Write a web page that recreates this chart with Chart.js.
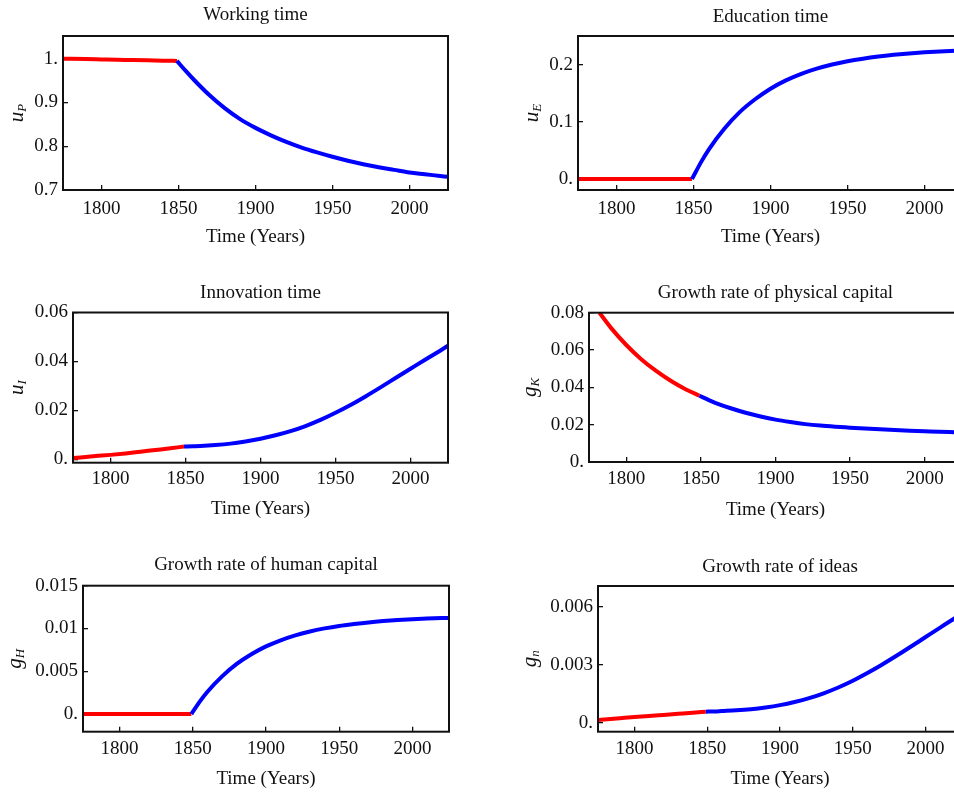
<!DOCTYPE html>
<html>
<head>
<meta charset="utf-8">
<script src="https://cdn.jsdelivr.net/npm/chart.js@4.4.0/dist/chart.umd.min.js"></script>
<style>
  html, body { margin: 0; padding: 0; background: #fff; width: 954px; height: 792px; overflow: hidden; }
  canvas { position: absolute; }
</style>
</head>
<body>
<canvas id="c1"></canvas>
<canvas id="c2"></canvas>
<canvas id="c3"></canvas>
<canvas id="c4"></canvas>
<canvas id="c5"></canvas>
<canvas id="c6"></canvas>
<script>
// years (red = before 1849, blue = after)
const preYears  = [1775, 1790, 1800, 1810, 1820, 1830, 1840, 1849];
const gkPreYears = [1782, 1790, 1800, 1810, 1820, 1830, 1840, 1849];
const postYears = [1849, 1855, 1860, 1870, 1880, 1890, 1900, 1910, 1920, 1930,
                   1940, 1950, 1960, 1970, 1980, 1990, 2000, 2010, 2020, 2025];
const yearTicks = [1800, 1850, 1900, 1950, 2000];

// working time u_P
const upPre  = [1.0, 0.9992, 0.9985, 0.9978, 0.997, 0.9963, 0.9957, 0.995];
const upPost = [0.995, 0.971, 0.952, 0.917, 0.887, 0.862, 0.842, 0.825, 0.810, 0.797,
                0.786, 0.776, 0.767, 0.759, 0.752, 0.746, 0.740, 0.736, 0.732, 0.730];
const upTicks = [0.7, 0.8, 0.9, 1.0];
const upTickLabels = ['0.7', '0.8', '0.9', '1.'];

// education time u_E
const uePre  = [0, 0, 0, 0, 0, 0, 0, 0];
const uePost = [0, 0.030, 0.052, 0.088, 0.117, 0.1395, 0.158, 0.1725, 0.184, 0.193,
                0.2003, 0.206, 0.2105, 0.2142, 0.2172, 0.2197, 0.2217, 0.2232, 0.2242, 0.2245];
const ueTicks = [0, 0.1, 0.2];
const ueTickLabels = ['0.', '0.1', '0.2'];

// innovation time u_I
const uiPre  = [0.0005, 0.0013, 0.0018, 0.0024, 0.0031, 0.0038, 0.0045, 0.0052];
const uiPost = [0.0052, 0.0053, 0.0054, 0.0058, 0.0064, 0.0073, 0.0084, 0.0098, 0.0115, 0.0136,
                0.0161, 0.0190, 0.0222, 0.0257, 0.0294, 0.0332, 0.0370, 0.0408, 0.0445, 0.0464];
const uiTicks = [0, 0.02, 0.04, 0.06];
const uiTickLabels = ['0.', '0.02', '0.04', '0.06'];

// growth rate of physical capital g_K
const gkPre  = [0.080, 0.0716, 0.0627, 0.0551, 0.0488, 0.0434, 0.0389, 0.0355];
const gkPost = [0.0355, 0.0333, 0.0316, 0.0288, 0.0264, 0.0244, 0.0227, 0.0214, 0.0203, 0.0195,
                0.0189, 0.0184, 0.0179, 0.0175, 0.0171, 0.0168, 0.0165, 0.0162, 0.0160, 0.0159];
const gkTicks = [0, 0.02, 0.04, 0.06, 0.08];
const gkTickLabels = ['0.', '0.02', '0.04', '0.06', '0.08'];

// growth rate of human capital g_H
const ghPre  = [0, 0, 0, 0, 0, 0, 0, 0];
const ghPost = [0, 0.0015, 0.0026, 0.0044, 0.00585, 0.00698, 0.0079, 0.00862, 0.0092, 0.00965,
                0.01001, 0.0103, 0.01052, 0.01071, 0.01086, 0.01098, 0.01108, 0.01116, 0.01121, 0.01122];
const ghTicks = [0, 0.005, 0.01, 0.015];
const ghTickLabels = ['0.', '0.005', '0.01', '0.015'];

// growth rate of ideas g_n
const gnPre  = [0.00014, 0.00023, 0.00029, 0.00034, 0.0004, 0.00046, 0.00052, 0.00057];
const gnPost = [0.00057, 0.00058, 0.00060, 0.00064, 0.00070, 0.00079, 0.00091, 0.00107, 0.00127, 0.00152,
                0.00182, 0.00217, 0.00257, 0.00300, 0.00346, 0.00394, 0.00443, 0.00492, 0.00540, 0.00563];
const gnTicks = [0, 0.003, 0.006];
const gnTickLabels = ['0.', '0.003', '0.006'];

const FONT = '"Liberation Serif", "Times New Roman", serif';
const INK = '#111';
const FRAME = '#111';
const TL = -5; // inward tick marks
const TICK_SIZE = 19;
const TITLE_SIZE = 19;

const panels = [
  { id: 'c1', title: 'Working time', sym: 'u', sub: 'P',
    pre: [preYears, upPre], post: [postYears, upPost], yMin: 0.7, yMax: 1.052, ticks: upTicks, labels: upTickLabels,
    box: { x: 0, y: 0, w: 470, h: 262 }, area: { l: 63, t: 36, r: 448, b: 190 }, titleY: 15, tickY: 209, xTitleY: 237, symX: 22.5 },
  { id: 'c2', title: 'Education time', sym: 'u', sub: 'E',
    pre: [preYears, uePre], post: [postYears, uePost], yMin: -0.0192, yMax: 0.2502, ticks: ueTicks, labels: ueTickLabels,
    box: { x: 480, y: 0, w: 490, h: 262 }, area: { l: 98, t: 36, r: 483, b: 190 }, titleY: 17, tickY: 209, xTitleY: 237, symX: 58 },
  { id: 'c3', title: 'Innovation time', sym: 'u', sub: 'I',
    pre: [preYears, uiPre], post: [postYears, uiPost], yMin: -0.0014, yMax: 0.06, ticks: uiTicks, labels: uiTickLabels,
    box: { x: 0, y: 270, w: 470, h: 262 }, area: { l: 73, t: 42.5, r: 448, b: 192.7 }, titleY: 23, tickY: 209, xTitleY: 239, symX: 22.5 },
  { id: 'c4', title: 'Growth rate of physical capital', sym: 'g', sub: 'K',
    pre: [gkPreYears, gkPre], post: [postYears, gkPost], yMin: 0, yMax: 0.08, ticks: gkTicks, labels: gkTickLabels,
    box: { x: 480, y: 270, w: 490, h: 262 }, area: { l: 109, t: 42.7, r: 482, b: 192 }, titleY: 23, tickY: 209, xTitleY: 240, symX: 56 },
  { id: 'c5', title: 'Growth rate of human capital', sym: 'g', sub: 'H',
    pre: [preYears, ghPre], post: [postYears, ghPost], yMin: -0.00207, yMax: 0.015, ticks: ghTicks, labels: ghTickLabels,
    box: { x: 0, y: 540, w: 470, h: 252 }, area: { l: 83, t: 45.7, r: 449, b: 191.7 }, titleY: 25, tickY: 209, xTitleY: 239, symX: 21 },
  { id: 'c6', title: 'Growth rate of ideas', sym: 'g', sub: 'n',
    pre: [preYears, gnPre], post: [postYears, gnPost], yMin: -0.000466, yMax: 0.00707, ticks: gnTicks, labels: gnTickLabels,
    box: { x: 480, y: 540, w: 490, h: 252 }, area: { l: 118, t: 46, r: 482, b: 191.7 }, titleY: 27, tickY: 209, xTitleY: 239, symX: 56 }
];

// frame round the plot area, like a Mathematica Frame
const framePlugin = {
  id: 'frame',
  afterDraw(chart) {
    const { ctx, chartArea: a } = chart;
    ctx.save();
    ctx.strokeStyle = FRAME;
    ctx.lineWidth = 2;
    ctx.strokeRect(a.left, a.top, a.right - a.left, a.bottom - a.top);
    ctx.restore();
  }
};

// rotated y label with a subscript
const symbolPlugin = {
  id: 'symbolLabel',
  afterDraw(chart, args, opts) {
    const { ctx, chartArea: a } = chart;
    ctx.save();
    ctx.translate(opts.x, (a.top + a.bottom) / 2);
    ctx.rotate(-Math.PI / 2);
    ctx.fillStyle = INK;
    ctx.textBaseline = 'alphabetic';
    ctx.font = 'italic 21px ' + FONT;
    const w1 = ctx.measureText(opts.sym).width;
    ctx.font = 'italic 13px ' + FONT;
    const w2 = ctx.measureText(opts.sub).width;
    const start = -(w1 + w2) / 2;
    ctx.font = 'italic 21px ' + FONT;
    ctx.fillText(opts.sym, start, 0);
    ctx.font = 'italic 13px ' + FONT;
    ctx.fillText(opts.sub, start + w1, 3);
    ctx.restore();
  }
};

function toPoints(years, vals) {
  return years.map((t, i) => ({ x: t, y: vals[i] }));
}

panels.forEach(function(p) {
  const cv = document.getElementById(p.id);
  cv.width = p.box.w;
  cv.height = p.box.h;
  cv.style.left = p.box.x + 'px';
  cv.style.top = p.box.y + 'px';
  cv.style.width = p.box.w + 'px';
  cv.style.height = p.box.h + 'px';

  const tickLH = TICK_SIZE * 1.2;
  const titleLH = TITLE_SIZE * 1.2;
  const titlePadTop = p.titleY - titleLH / 2;

  new Chart(cv, {
    type: 'line',
    data: {
      datasets: [
        {
          data: toPoints(p.post[0], p.post[1]),
          borderColor: '#0000ff', borderWidth: 4, pointRadius: 0,
          cubicInterpolationMode: 'monotone', fill: false, clip: 0
        },
        {
          data: toPoints(p.pre[0], p.pre[1]),
          borderColor: '#ff0000', borderWidth: 4, pointRadius: 0,
          cubicInterpolationMode: 'monotone', fill: false, clip: 0
        }
      ]
    },
    options: {
      responsive: false,
      animation: false,
      devicePixelRatio: 1,
      layout: { padding: { left: 0, top: 0, right: p.box.w - p.area.r, bottom: 0 } },
      plugins: {
        legend: { display: false },
        tooltip: { enabled: false },
        title: {
          display: true, text: p.title, color: INK, fullSize: false,
          font: { family: FONT, size: TITLE_SIZE, weight: 'normal' },
          padding: { top: titlePadTop, bottom: p.area.t - titlePadTop - titleLH }
        },
        symbolLabel: { sym: p.sym, sub: p.sub, x: p.symX }
      },
      scales: {
        x: {
          type: 'linear', min: 1775, max: 2025,
          afterBuildTicks: function(s) { s.ticks = yearTicks.map(v => ({ value: v })); },
          afterFit: function(s) { s.height = p.box.h - p.area.b; },
          grid: { display: true, drawOnChartArea: false, drawTicks: true, tickLength: TL, color: FRAME, lineWidth: 1.3 },
          border: { display: false },
          ticks: {
            color: INK, font: { family: FONT, size: TICK_SIZE }, maxRotation: 0,
            padding: p.tickY - p.area.b - TL - tickLH / 2,
            callback: function(v) { return String(v); }
          },
          title: {
            display: true, text: 'Time (Years)', color: INK,
            font: { family: FONT, size: TITLE_SIZE },
            padding: { top: 0, bottom: p.box.h - p.xTitleY - titleLH / 2 }
          }
        },
        y: {
          type: 'linear', min: p.yMin, max: p.yMax,
          afterBuildTicks: function(s) { s.ticks = p.ticks.map(v => ({ value: v })); },
          afterFit: function(s) { s.width = p.area.l; },
          grid: { display: true, drawOnChartArea: false, drawTicks: true, tickLength: TL, color: FRAME, lineWidth: 1.3 },
          border: { display: false },
          ticks: {
            color: INK, font: { family: FONT, size: TICK_SIZE }, padding: 10,
            callback: function(v, i) { return p.labels[i]; }
          }
        }
      }
    },
    plugins: [framePlugin, symbolPlugin]
  });
});
</script>
</body>
</html>
